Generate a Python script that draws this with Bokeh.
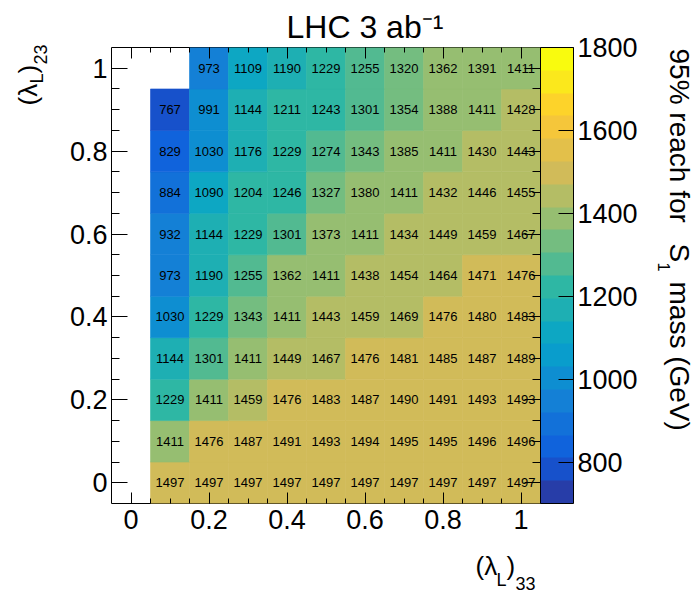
import numpy as np
from bokeh.plotting import figure
from bokeh.layouts import row, column
from bokeh.models import (ColumnDataSource, LinearColorMapper, ColorBar, FixedTicker,
                          LinearAxis, Label, Range1d, CustomJSTickFormatter)
from bokeh.transform import transform
from bokeh.core.properties import value
from bokeh.embed import file_html
from bokeh.resources import INLINE

# ---------------- data ----------------
lambda33 = [0.1, 0.2, 0.3, 0.4, 0.5, 0.6, 0.7, 0.8, 0.9, 1.0]
lambda23 = [0.0, 0.1, 0.2, 0.3, 0.4, 0.5, 0.6, 0.7, 0.8, 0.9, 1.0]

reach_y00 = [1497, 1497, 1497, 1497, 1497, 1497, 1497, 1497, 1497, 1497]
reach_y01 = [1411, 1476, 1487, 1491, 1493, 1494, 1495, 1495, 1496, 1496]
reach_y02 = [1229, 1411, 1459, 1476, 1483, 1487, 1490, 1491, 1493, 1493]
reach_y03 = [1144, 1301, 1411, 1449, 1467, 1476, 1481, 1485, 1487, 1489]
reach_y04 = [1030, 1229, 1343, 1411, 1443, 1459, 1469, 1476, 1480, 1483]
reach_y05 = [973, 1190, 1255, 1362, 1411, 1438, 1454, 1464, 1471, 1476]
reach_y06 = [932, 1144, 1229, 1301, 1373, 1411, 1434, 1449, 1459, 1467]
reach_y07 = [884, 1090, 1204, 1246, 1327, 1380, 1411, 1432, 1446, 1455]
reach_y08 = [829, 1030, 1176, 1229, 1274, 1343, 1385, 1411, 1430, 1443]
reach_y09 = [767, 991, 1144, 1211, 1243, 1301, 1354, 1388, 1411, 1428]
reach_y10 = [None, 973, 1109, 1190, 1229, 1255, 1320, 1362, 1391, 1411]

reach_rows = [reach_y00, reach_y01, reach_y02, reach_y03, reach_y04, reach_y05,
              reach_y06, reach_y07, reach_y08, reach_y09, reach_y10]

x_ticks = [0, 0.2, 0.4, 0.6, 0.8, 1.0]
y_ticks = [0, 0.2, 0.4, 0.6, 0.8, 1.0]
color_ticks = [800, 1000, 1200, 1400, 1600, 1800]
color_low, color_high = 700, 1800
n_levels = 20

# ROOT kBird palette definition
bird_stops = [0.0, 0.125, 0.25, 0.375, 0.5, 0.625, 0.75, 0.875, 1.0]
bird_red = [0.2082, 0.0592, 0.0780, 0.0232, 0.1802, 0.5301, 0.8186, 0.9956, 0.9764]
bird_green = [0.1664, 0.3599, 0.5041, 0.6419, 0.7178, 0.7492, 0.7328, 0.7862, 0.9832]
bird_blue = [0.5293, 0.8684, 0.8385, 0.7914, 0.6425, 0.4662, 0.3499, 0.1968, 0.0539]


def bird_palette(n):
    cols = []
    for i in range(n):
        idx = int((i + 0.99) * 255 / n)
        f = min(idx / 254.0, 1.0)
        r = np.interp(f, bird_stops, bird_red)
        g = np.interp(f, bird_stops, bird_green)
        b = np.interp(f, bird_stops, bird_blue)
        cols.append("#%02x%02x%02x" % (int(round(r * 255)), int(round(g * 255)), int(round(b * 255))))
    return cols


palette = bird_palette(n_levels)

xs, ys, vs, labels = [], [], [], []
for yv, row_vals in zip(lambda23, reach_rows):
    for xv, v in zip(lambda33, row_vals):
        if v is None:
            continue
        xs.append(xv)
        ys.append(yv)
        vs.append(v)
        labels.append(str(v))
source = ColumnDataSource(dict(x=xs, y=ys, v=vs, label=labels))

FONT = "Liberation Sans"
W, H = 695, 596
# canvas layout (pixels)
LEFT_W = 60            # strip holding the y-axis title
RIGHT_W = 40           # strip holding the colour-bar title
MAIN_W = W - LEFT_W - RIGHT_W
MAIN_H = 548
BOT_H = H - MAIN_H     # strip holding the x-axis title
FRAME_L, FRAME_R, FRAME_T, FRAME_B = 111, 540, 47, 503

p = figure(width=MAIN_W, height=MAIN_H, x_range=Range1d(-0.05, 1.05), y_range=Range1d(-0.05, 1.05),
           output_backend="svg", toolbar_location=None,
           min_border_left=FRAME_L - LEFT_W, min_border_right=LEFT_W + MAIN_W - FRAME_R,
           min_border_top=FRAME_T, min_border_bottom=MAIN_H - FRAME_B)
p.grid.visible = False
p.outline_line_color = "black"
p.outline_line_width = 1
p.background_fill_color = "white"
p.border_fill_color = "white"

p.title.text = "LHC 3 ab\u207b\u00b9"
p.title.text_font = FONT
p.title.text_font_size = "32px"
p.title.text_font_style = "normal"
p.title.text_color = "black"
p.title.align = "left"
p.title.offset = 286 - FRAME_L
p.title.standoff = 5

mapper = LinearColorMapper(palette=palette, low=color_low, high=color_high)

p.rect(x="x", y="y", width=0.1, height=0.1, source=source,
       fill_color=transform("v", mapper), line_color=transform("v", mapper), line_width=0.6)
p.text(x="x", y="y", text="label", source=source, text_align="center", text_baseline="middle",
       text_font=value(FONT), text_font_size="13px", text_color="black")

fmt = CustomJSTickFormatter(code="return String(Number(tick.toFixed(2)));")
minor = [round(0.05 * k, 2) for k in range(0, 21)]


def style_axis(ax, major_in, minor_in, show):
    ax.axis_line_color = None
    ax.major_tick_in = major_in
    ax.major_tick_out = 0
    ax.minor_tick_in = minor_in
    ax.minor_tick_out = 0
    ax.major_tick_line_color = "black"
    ax.minor_tick_line_color = "black"
    ax.major_label_text_font = FONT
    ax.major_label_text_color = "black"
    if show:
        ax.major_label_text_font_size = "27px"
        ax.formatter = fmt
    else:
        ax.major_label_text_font_size = "0px"
        ax.major_label_standoff = 0
        ax.formatter = CustomJSTickFormatter(code="return '';")


p.xaxis.ticker = FixedTicker(ticks=x_ticks, minor_ticks=minor)
p.yaxis.ticker = FixedTicker(ticks=y_ticks, minor_ticks=minor)
style_axis(p.xaxis[0], 11, 5, True)
style_axis(p.yaxis[0], 16, 8, True)
p.xaxis.major_label_standoff = 6
p.yaxis.major_label_standoff = 4

top_ax = LinearAxis(ticker=FixedTicker(ticks=x_ticks, minor_ticks=minor))
style_axis(top_ax, 11, 5, False)
p.add_layout(top_ax, "above")
right_ax = LinearAxis(ticker=FixedTicker(ticks=y_ticks, minor_ticks=minor))
style_axis(right_ax, 16, 8, False)
right_ax.major_label_standoff = 2
p.add_layout(right_ax, "right")

cb = ColorBar(color_mapper=mapper, ticker=FixedTicker(ticks=color_ticks), width=33,
              height=FRAME_B - FRAME_T,
              padding=0, margin=0, location="top_left",
              major_label_text_font=FONT, major_label_text_font_size="27px",
              major_label_text_color="black", label_standoff=4,
              major_tick_in=15, major_tick_out=0, major_tick_line_color="black",
              minor_tick_line_color=None, bar_line_color="black", bar_line_width=1,
              border_line_color=None, background_fill_color=None)
p.add_layout(cb, "right")


def strip(w, h):
    s = figure(width=w, height=h, x_range=Range1d(0, 1), y_range=Range1d(0, 1),
               output_backend="svg", toolbar_location=None,
               x_axis_location=None, y_axis_location=None,
               min_border_left=0, min_border_right=0, min_border_top=0, min_border_bottom=0)
    s.grid.visible = False
    s.outline_line_color = None
    s.background_fill_color = "white"
    s.border_fill_color = "white"
    return s


BASE_K = 0.365   # measured shift of the rendered baseline, in em


def lab(fig, fx, fbottom, X, Y, text, size, angle=0.0):
    # X, Y: canvas pixel position of the wanted baseline start
    # (fx, fbottom): canvas pixel position of the strip frame's left / bottom edge
    ux, uy = -np.sin(angle), -np.cos(angle)   # "up" direction of the text on screen
    Xa = X + ux * BASE_K * size
    Ya = Y + uy * BASE_K * size
    fig.add_layout(Label(x=Xa - fx, y=fbottom - Ya, x_units="screen", y_units="screen", text=text,
                         text_font=FONT, text_font_size="%spx" % size, text_color="black",
                         text_align="left", text_baseline="alphabetic", angle=angle))


# y axis title (left strip)
left_fig = strip(LEFT_W, H)
lab(left_fig, 0, H, 37, 105, "(\u03bb", 26, np.pi / 2)
lab(left_fig, 0, H, 43, 83, "L", 18, np.pi / 2)
lab(left_fig, 0, H, 37, 73, ")", 26, np.pi / 2)
lab(left_fig, 0, H, 47, 64, "23", 18, np.pi / 2)

# x axis title (bottom strip; its frame is aligned with the main frame)
bot_fig = strip(MAIN_W, BOT_H)
lab(bot_fig, FRAME_L, H, 475, 575, "(\u03bb", 26)
lab(bot_fig, FRAME_L, H, 496, 586, "L", 18)
lab(bot_fig, FRAME_L, H, 506, 575, ")", 26)
lab(bot_fig, FRAME_L, H, 515, 590, "33", 18)

# colour bar title (right strip)
RX = LEFT_W + MAIN_W
right_fig = strip(RIGHT_W, H)
lab(right_fig, RX, H, 669, 48, "95% reach for", 28, -np.pi / 2)
lab(right_fig, RX, H, 669, 243, "S", 28, -np.pi / 2)
lab(right_fig, RX, H, 658, 262, "1", 16, -np.pi / 2)
lab(right_fig, RX, H, 669, 281, "mass (GeV)", 28, -np.pi / 2)

layout = row(left_fig, column(p, bot_fig, spacing=0), right_fig, spacing=0)

open("out.html", "w").write(file_html(layout, INLINE))
